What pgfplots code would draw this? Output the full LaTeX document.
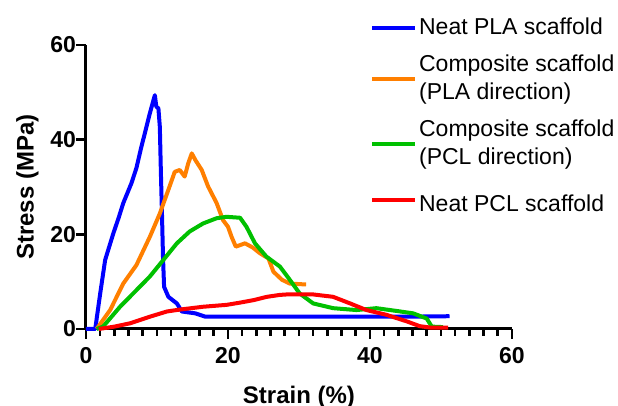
\documentclass[border=0pt]{standalone}
\usepackage{fontspec}
\setmainfont{Liberation Sans}
\usepackage{pgfplots}
\pgfplotsset{compat=1.18}

\definecolor{plaBlue}{RGB}{0,0,255}
\definecolor{compOrange}{RGB}{255,127,0}
\definecolor{compGreen}{RGB}{0,192,0}
\definecolor{pclRed}{RGB}{255,0,0}

\begin{document}
\fontsize{11.5}{14}\selectfont
\begin{tikzpicture}
\begin{axis}[
    at={(0,0)}, anchor=south west,
    scale only axis,
    width=213pt, height=142pt,
    xmin=0, xmax=60, ymin=0, ymax=60,
    xtick={0,20,40,60}, ytick={0,20,40,60},
    minor x tick num=9,
    axis x line*=bottom, axis y line*=left,
    axis line style={line width=1.5pt, black},
    every tick/.style={line width=1.3pt, black},
    tick align=outside,
    major tick length=5pt, minor tick length=3.5pt,
    /pgf/number format/assume math mode=true,
    ticklabel style={font=\bfseries\fontsize{11.5}{14}\selectfont},
    yticklabel style={xshift=4pt},
    xlabel={\bfseries Strain (\%)},
    ylabel={\bfseries Stress (MPa)},
    label style={font=\bfseries\fontsize{12}{14}\selectfont},
    xlabel style={yshift=-3.5pt},
    ylabel style={yshift=-2pt},
    clip=false,
    legend image code/.code={\draw[#1] (0pt,0pt) -- (15pt,0pt);
        \path (0pt,0pt) -- (21.5pt,0pt);},
    legend cell align=left,
    legend style={at={(axis description cs:0.652,1.118)}, anchor=north west,
        draw=none, fill=none, row sep=6.5pt,
        nodes={align=left, inner sep=1pt, font=\fontsize{11.5}{14}\selectfont}},
    every axis plot/.append style={line width=2pt, line join=round},
]
\addplot[plaBlue] coordinates {
(0,0) (1.3,0) (2.0,7.5) (2.7,14.6) (3.85,20.2) (4.6,23.5) (5.25,26.6) (6.4,30.8)
(7.1,34.0) (7.8,38.5) (8.4,42.0) (9.0,45.6) (9.4,47.8) (9.7,49.4) (9.9,47.0)
(10.2,46.6) (10.4,42.7) (10.55,33.0) (10.7,24.4) (10.85,15.0) (11.0,8.9)
(11.6,6.8) (12.8,5.4) (13.5,3.7) (15.4,3.3) (16.8,2.6) (25,2.6) (35,2.6)
(45,2.6) (51.2,2.7)};
\addlegendentry{Neat PLA scaffold}
\addplot[compOrange] coordinates {
(1.5,0) (3.4,4.0) (5.25,9.6) (7.1,13.5) (9.0,19.5) (10.4,24.4) (11.6,29.4)
(12.5,33.2) (13.2,33.6) (13.9,32.2) (14.4,35.0) (14.9,37.1) (15.4,35.7)
(16.3,33.6) (17.2,30.1) (18.4,26.6) (19.3,23.0) (20.0,21.6) (20.5,19.5)
(21.1,17.4) (22.4,18.1) (23.5,17.2) (24.5,16.0) (25.7,14.9) (26.4,12.1)
(27.6,10.4) (28.7,9.6) (31.0,9.4)};
\addlegendentry{Composite scaffold\\(PLA direction)}
\addplot[compGreen] coordinates {
(1.5,0) (2.4,0.5) (4.8,4.7) (7.1,8.2) (9.0,11.1) (10.9,14.6) (12.8,18.1)
(14.6,20.6) (16.5,22.3) (18.4,23.4) (19.8,23.7) (21.7,23.5) (22.6,21.6)
(23.8,18.1) (25.4,15.3) (27.3,13.2) (28.7,10.4) (30.1,7.5) (32.0,5.4)
(34.8,4.4) (38.1,4.0) (40.9,4.4) (43.8,3.8) (46.1,3.3) (48.0,2.2) (48.7,0.5)
(50.3,0.4)};
\addlegendentry{Composite scaffold\\(PCL direction)}
\addplot[pclRed] coordinates {
(1.8,0) (4.0,0.5) (6.2,1.2) (9.0,2.6) (11.4,3.7) (13.2,4.1) (16.5,4.7)
(19.8,5.1) (21.8,5.6) (23.6,6.1) (25.5,6.8) (27.3,7.2) (28.3,7.3) (32.0,7.3)
(34.8,6.8) (37.2,5.4) (39.5,4.0) (42.3,3.0) (45.2,1.6) (47.0,0.6) (48.5,0.3)
(51.0,0.3)};
\addlegendentry{\rule[-4pt]{0pt}{17pt}Neat PCL scaffold}
\coordinate (bl) at (rel axis cs:0,0);
\end{axis}
\pgfresetboundingbox
\path ([shift={(-43pt,-38.5pt)}]bl) rectangle ([shift={(266pt,164.5pt)}]bl);
\end{tikzpicture}
\end{document}
